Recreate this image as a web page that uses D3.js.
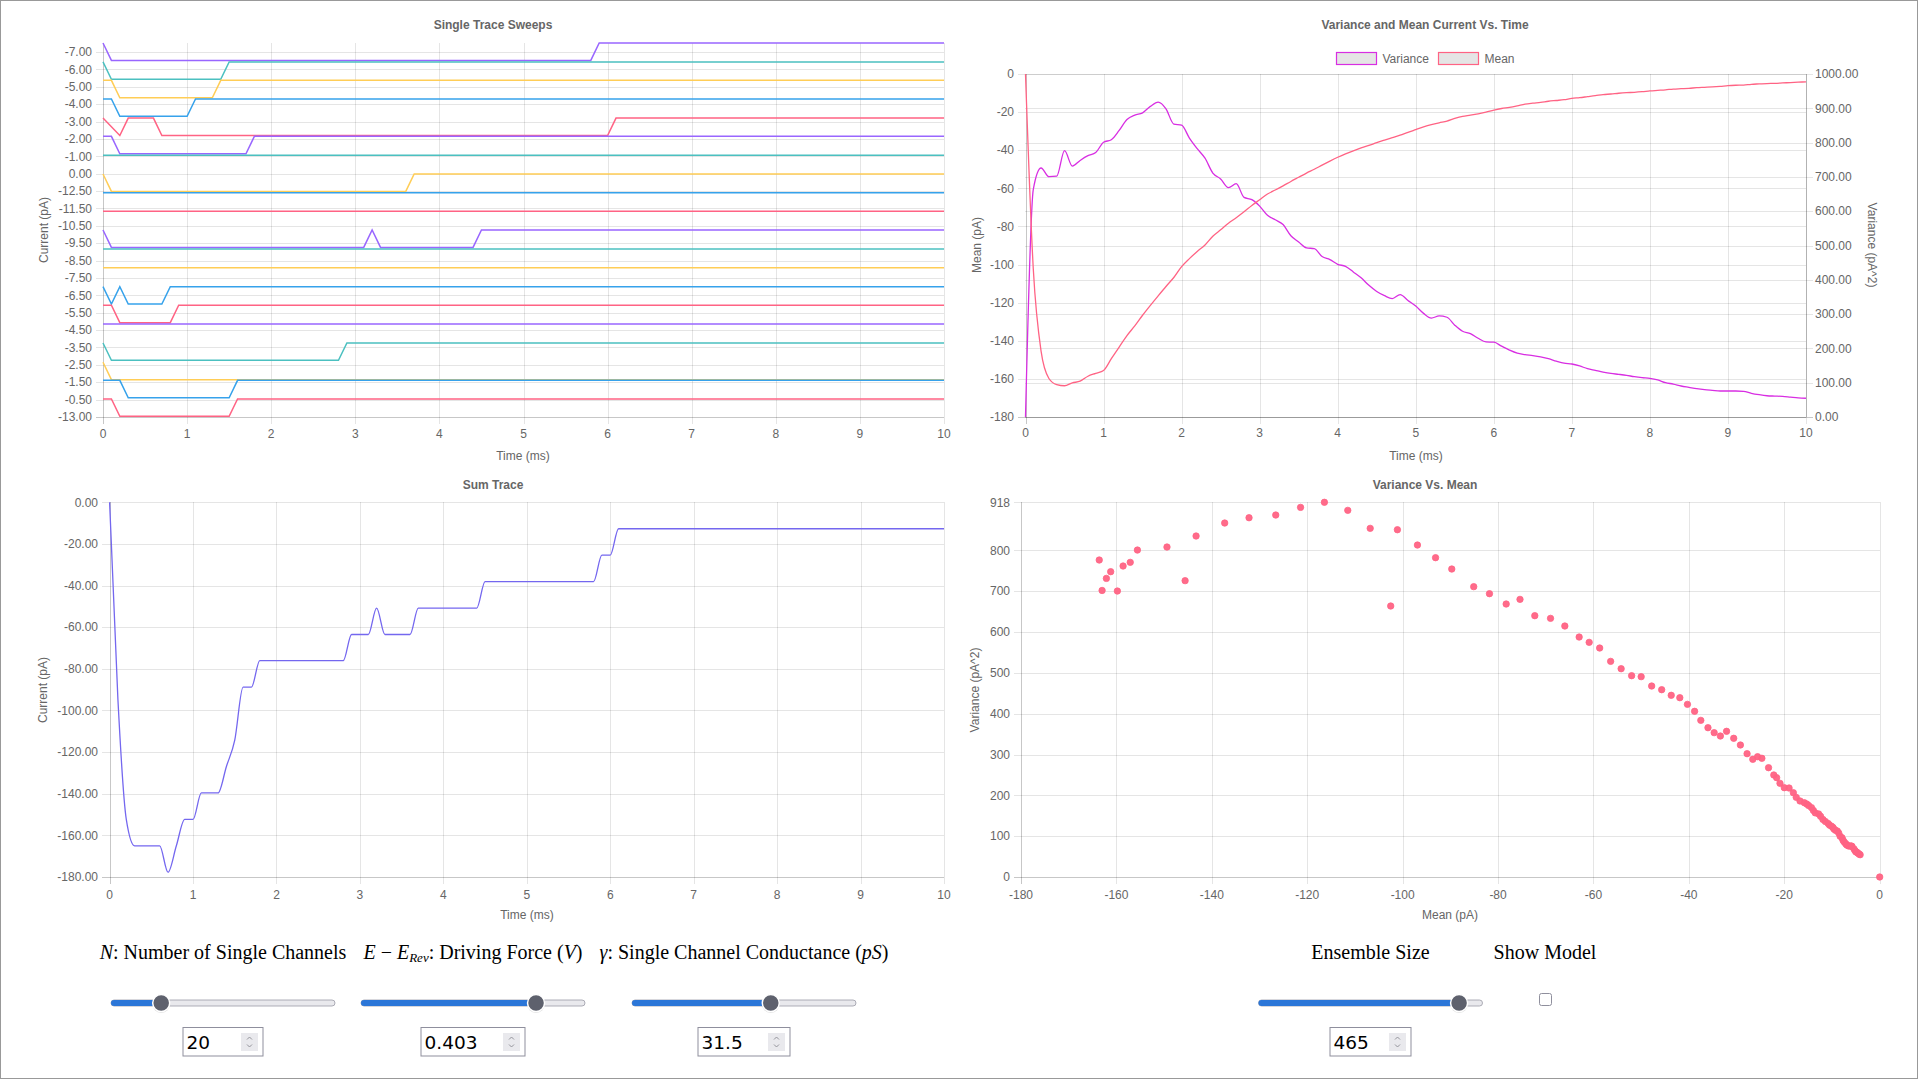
<!DOCTYPE html>
<html>
<head>
<meta charset="utf-8">
<title>Single channel ensemble analysis</title>
<script src="https://cdn.jsdelivr.net/npm/d3@7"></script>
<style>
  body { margin: 0; background: #fff; }
  svg { display: block; }
</style>
</head>
<body>
<script>
// ---- data ----
const timeTicks = [0, 1, 2, 3, 4, 5, 6, 7, 8, 9, 10];
const sampleStep = 0.1; // ms between samples

// sweep chart: tick labels from bottom to top (one per tick unit)
const sweepTickLabels = ["-13.00", "-0.50", "-1.50", "-2.50", "-3.50", "-4.50", "-5.50",
  "-6.50", "-7.50", "-8.50", "-9.50", "-10.50", "-11.50", "-12.50", "0.00", "-1.00",
  "-2.00", "-3.00", "-4.00", "-5.00", "-6.00", "-7.00"];
const sweepMax = 21.52;
// closed level of each sweep (tick units), top to bottom
const sweepBaselines = [21.52, 20.43, 19.37, 18.30, 17.20, 16.15, 15.06, 13.98, 12.91, 11.84,
  10.76, 9.67, 8.59, 7.50, 6.43, 5.35, 4.26, 3.15, 2.11, 1.04];
// [time ms, open state] vertices of each sweep
const sweepEvents = [
  [[0, 0], [0.1, 1], [5.8, 1], [5.9, 0], [10, 0]],
  [[0, 0], [0.1, 1], [1.4, 1], [1.5, 0], [10, 0]],
  [[0, 0], [0.1, 0], [0.2, 1], [1.3, 1], [1.4, 0], [10, 0]],
  [[0, 0], [0.1, 0], [0.2, 1], [1.0, 1], [1.1, 0], [10, 0]],
  [[0, 0], [0.2, 1], [0.3, 0], [0.6, 0], [0.7, 1], [6.0, 1], [6.1, 0], [10, 0]],
  [[0, 0], [0.1, 0], [0.2, 1], [1.7, 1], [1.8, 0], [10, 0]],
  [[0, 0], [10, 0]],
  [[0, 0], [0.1, 1], [3.6, 1], [3.7, 0], [10, 0]],
  [[0, 0], [10, 0]],
  [[0, 0], [10, 0]],
  [[0, 0], [0.1, 1], [3.1, 1], [3.2, 0], [3.3, 1], [4.4, 1], [4.5, 0], [10, 0]],
  [[0, 0], [10, 0]],
  [[0, 0], [10, 0]],
  [[0, 0], [0.1, 1], [0.2, 0], [0.3, 1], [0.7, 1], [0.8, 0], [10, 0]],
  [[0, 0], [0.1, 0], [0.2, 1], [0.8, 1], [0.9, 0], [10, 0]],
  [[0, 0], [10, 0]],
  [[0, 0], [0.1, 1], [2.8, 1], [2.9, 0], [10, 0]],
  [[0, 0], [0.1, 1], [10, 1]],
  [[0, 0], [0.2, 0], [0.3, 1], [1.5, 1], [1.6, 0], [10, 0]],
  [[0, 0], [0.1, 0], [0.2, 1], [1.5, 1], [1.6, 0], [10, 0]],
];

// sum trace (pA), every 0.1 ms
const sumTrace = [
  0, -95, -152.3, -165, -165, -165, -165, -177.7, -165, -152.3,
  -152.3, -139.6, -139.6, -139.6, -126.9, -114.2, -88.8, -88.8, -76.1, -76.1,
  -76.1, -76.1, -76.1, -76.1, -76.1, -76.1, -76.1, -76.1, -76.1, -63.5,
  -63.5, -63.5, -50.8, -63.5, -63.5, -63.5, -63.5, -50.8, -50.8, -50.8,
  -50.8, -50.8, -50.8, -50.8, -50.8, -38.1, -38.1, -38.1, -38.1, -38.1,
  -38.1, -38.1, -38.1, -38.1, -38.1, -38.1, -38.1, -38.1, -38.1, -25.4,
  -25.4, -12.7, -12.7, -12.7, -12.7, -12.7, -12.7, -12.7, -12.7, -12.7,
  -12.7, -12.7, -12.7, -12.7, -12.7, -12.7, -12.7, -12.7, -12.7, -12.7,
  -12.7, -12.7, -12.7, -12.7, -12.7, -12.7, -12.7, -12.7, -12.7, -12.7,
  -12.7, -12.7, -12.7, -12.7, -12.7, -12.7, -12.7, -12.7, -12.7, -12.7,
  -12.7,
];

// ensemble mean (pA), every 0.1 ms
const meanCurrent = [
  0, -102.5, -145.6, -159.8, -163.0, -163.6, -162.1, -161.2, -158.6, -157.1,
  -155.6, -149.4, -143.3, -137.3, -132.2, -126.6, -121.4, -116.4, -111.5, -106.8,
  -101.1, -96.9, -93.1, -89.7, -85.1, -81.8, -78.3, -75.4, -72.3, -69.0,
  -66.0, -63.0, -60.9, -58.7, -56.4, -54.2, -52.0, -50.0, -47.8, -45.7,
  -43.7, -41.9, -40.3, -38.8, -37.5, -36.0, -34.7, -33.4, -32.1, -30.6,
  -29.2, -27.8, -26.6, -25.6, -24.7, -23.3, -22.2, -21.6, -20.9, -20.0,
  -19.0, -18.1, -17.5, -16.7, -15.8, -15.3, -14.9, -14.3, -13.9, -13.5,
  -12.8, -12.4, -11.9, -11.4, -10.8, -10.5, -10.1, -9.8, -9.6, -9.3,
  -8.9, -8.6, -8.3, -7.9, -7.7, -7.5, -7.2, -7.0, -6.8, -6.5,
  -6.1, -5.9, -5.8, -5.4, -5.2, -5.0, -4.9, -4.7, -4.5, -4.3,
  -4.1,
];

// ensemble variance (pA^2), every 0.1 ms
const varianceCurrent = [
  0, 663.9, 726, 700.6, 702, 776.6, 731.6, 748, 761.9, 770.9,
  801, 808.4, 835.4, 867.2, 880.2, 886.8, 905.6, 918, 898.3, 854.2,
  850.8, 813.3, 782.3, 754.5, 711.3, 694.1, 668.8, 680.2, 640.2, 633.7,
  614.9, 587.9, 574.9, 561, 528.3, 510.3, 493.2, 490.8, 467.9, 458.9,
  445.1, 439.3, 423, 405.9, 383.8, 365.8, 353.6, 345.4, 356.9, 339.8,
  323.4, 302.1, 288.3, 294.7, 290.8, 267.8, 249.9, 243.3, 229.5, 218.8,
  218, 206.5, 195.2, 186.2, 182, 178.8, 175, 170, 163, 157,
  154.5, 148.7, 141, 136, 131, 127, 124.4, 121.5, 117.6, 114.7,
  112.7, 108, 100, 96, 90.4, 86.5, 82.6, 79.7, 77.7, 75.8,
  75.8, 75.8, 74.8, 69, 65, 62, 61, 60, 58, 56,
  54.6,
];

const meanTicks = [0, -20, -40, -60, -80, -100, -120, -140, -160, -180];
const varianceTicks = [0, 100, 200, 300, 400, 500, 600, 700, 800, 900, 1000];
const sumTicks = [0, -20, -40, -60, -80, -100, -120, -140, -160, -180];
const scatterMeanTicks = [-180, -160, -140, -120, -100, -80, -60, -40, -20, 0];
const scatterVarTicks = [0, 100, 200, 300, 400, 500, 600, 700, 800];

const controlValues = ["20", "0.403", "31.5", "465"];
const controlRanges = [[0, 100], [0, 0.5], [0, 50], [0, 500]];

// ---- drawing ----
const FONT = "'Liberation Sans', Arial, Helvetica, sans-serif";
const GRID = "rgba(0,0,0,0.1)";
const AXIS = "rgba(0,0,0,0.22)";
const TEXT = "#666";
const sweepColors = ["rgb(153,102,255)", "rgb(75,192,192)", "rgb(255,205,86)",
  "rgb(54,162,235)", "rgb(255,99,132)"];
const VAR_COLOR = "#d82ee2";
const MEAN_COLOR = "rgb(255,99,132)";
const SUM_COLOR = "#7467ef";

const sampleTimes = meanCurrent.map((d, i) => i * sampleStep);

const svg = d3.select("body").append("svg")
  .attr("width", 1920).attr("height", 1080)
  .style("font-family", FONT);

svg.append("rect")
  .attr("x", 0.5).attr("y", 0.5).attr("width", 1917).attr("height", 1078)
  .attr("fill", "none").attr("stroke", "#999");

function crisp(v) { return Math.round(v) + 0.5; }

function vGrid(x, ticks, top, bottom) {
  svg.append("g").selectAll("line").data(ticks).join("line")
    .attr("x1", d => crisp(x(d))).attr("x2", d => crisp(x(d)))
    .attr("y1", top).attr("y2", bottom + 7)
    .attr("stroke", (d, i) => i === 0 ? AXIS : GRID);
}

function hGrid(y, ticks, x1, x2, isBottom) {
  svg.append("g").selectAll("line").data(ticks).join("line")
    .attr("x1", x1).attr("x2", x2)
    .attr("y1", d => crisp(y(d))).attr("y2", d => crisp(y(d)))
    .attr("stroke", d => isBottom(d) ? AXIS : GRID);
}

function tickText(list, xf, yf, fmt, anchor) {
  svg.append("g").selectAll("text").data(list).join("text")
    .attr("x", xf).attr("y", yf).attr("dy", "0.35em")
    .attr("text-anchor", anchor)
    .attr("font-size", 12).attr("fill", TEXT)
    .text(fmt);
}

function title(x, y, t) {
  svg.append("text").attr("x", x).attr("y", y).attr("dy", "0.35em")
    .attr("text-anchor", "middle").attr("font-size", 12)
    .attr("font-weight", "bold").attr("fill", TEXT).text(t);
}

function axisTitle(x, y, t, rot) {
  svg.append("text")
    .attr("transform", `translate(${x},${y}) rotate(${rot || 0})`)
    .attr("dy", "0.35em").attr("text-anchor", "middle")
    .attr("font-size", 12).attr("fill", TEXT).text(t);
}

// --- Single Trace Sweeps ---
{
  const x = d3.scaleLinear().domain([0, 10]).range([103, 944]);
  const y = d3.scaleLinear().domain([0, sweepMax]).range([417, 43]);
  const ticks = sweepTickLabels.map((d, i) => i);

  vGrid(x, timeTicks, 43, 417);
  hGrid(y, ticks, 96, 944, d => d === 0);
  tickText(ticks, 92, d => y(d), d => sweepTickLabels[d], "end");
  tickText(timeTicks, d => x(d), 434, d => d, "middle");
  title(493, 25, "Single Trace Sweeps");
  axisTitle(44, 230, "Current (pA)", -90);
  axisTitle(523, 456, "Time (ms)");

  const line = d3.line().x(d => x(d[0])).y(d => y(d[1]));
  sweepEvents.forEach((ev, k) => {
    const pts = ev.map(e => [e[0], sweepBaselines[k] - e[1]]);
    svg.append("path").datum(pts)
      .attr("d", line).attr("fill", "none")
      .attr("stroke", sweepColors[k % 5]).attr("stroke-width", 1.5);
  });
}

// --- Variance and Mean Current Vs. Time ---
{
  const x = d3.scaleLinear().domain([0, 10]).range([1025.5, 1806]);
  const yMean = d3.scaleLinear().domain([-180, 0]).range([417, 74]);
  const yVar = d3.scaleLinear().domain([0, 1000]).range([417, 74]);

  vGrid(x, timeTicks, 74, 417);
  hGrid(yMean, meanTicks, 1018, 1806, d => d === -180);
  hGrid(yVar, varianceTicks, 1025, 1813, d => d === 0);
  svg.append("line").attr("x1", crisp(1806)).attr("x2", crisp(1806))
    .attr("y1", 74).attr("y2", 417).attr("stroke", AXIS);
  tickText(meanTicks, 1014, d => yMean(d), d => d, "end");
  tickText(varianceTicks, 1815, d => yVar(d), d => d.toFixed(2), "start");
  tickText(timeTicks, d => x(d), 433, d => d, "middle");
  title(1425, 25, "Variance and Mean Current Vs. Time");
  axisTitle(977, 245, "Mean (pA)", -90);
  axisTitle(1872, 245, "Variance (pA^2)", 90);
  axisTitle(1416, 456, "Time (ms)");

  // legend
  const legend = [["Variance", VAR_COLOR, 1336.5], ["Mean", MEAN_COLOR, 1438.5]];
  legend.forEach(l => {
    svg.append("rect").attr("x", l[2]).attr("y", 52.5).attr("width", 40).attr("height", 12)
      .attr("fill", "rgba(0,0,0,0.1)").attr("stroke", l[1]).attr("stroke-width", 1.2);
    svg.append("text").attr("x", l[2] + 46).attr("y", 58.5).attr("dy", "0.35em")
      .attr("font-size", 12).attr("fill", TEXT).text(l[0]);
  });

  const varLine = d3.line().x((d, i) => x(sampleTimes[i])).y(d => yVar(d)).curve(d3.curveMonotoneX);
  const meanLine = d3.line().x((d, i) => x(sampleTimes[i])).y(d => yMean(d)).curve(d3.curveMonotoneX);
  svg.append("path").datum(varianceCurrent).attr("d", varLine)
    .attr("fill", "none").attr("stroke", VAR_COLOR).attr("stroke-width", 1.3);
  svg.append("path").datum(meanCurrent).attr("d", meanLine)
    .attr("fill", "none").attr("stroke", MEAN_COLOR).attr("stroke-width", 1.3);
}

// --- Sum Trace ---
{
  const x = d3.scaleLinear().domain([0, 10]).range([109.6, 944]);
  const y = d3.scaleLinear().domain([-180, 0]).range([877, 502.3]);

  vGrid(x, timeTicks, 502, 877);
  hGrid(y, sumTicks, 102, 944, d => d === -180);
  tickText(sumTicks, 98, d => y(d), d => d.toFixed(2), "end");
  tickText(timeTicks, d => x(d), 895, d => d, "middle");
  title(493, 485, "Sum Trace");
  axisTitle(43, 690, "Current (pA)", -90);
  axisTitle(527, 915, "Time (ms)");

  const line = d3.line().x((d, i) => x(sampleTimes[i])).y(d => y(d)).curve(d3.curveMonotoneX);
  svg.append("path").datum(sumTrace).attr("d", line)
    .attr("fill", "none").attr("stroke", SUM_COLOR).attr("stroke-width", 1.3);
}

// --- Variance Vs. Mean ---
{
  const varMax = d3.max(varianceCurrent);
  const x = d3.scaleLinear().domain([-180, 0]).range([1021, 1879.7]);
  const y = d3.scaleLinear().domain([0, varMax]).range([877, 502.3]);
  const yTicks = scatterVarTicks.concat([varMax]);

  vGrid(x, scatterMeanTicks, 502, 877);
  hGrid(y, yTicks, 1014, 1880, d => d === 0);
  tickText(yTicks, 1010, d => y(d), d => d, "end");
  tickText(scatterMeanTicks, d => x(d), 895, d => d, "middle");
  title(1425, 485, "Variance Vs. Mean");
  axisTitle(975, 690, "Variance (pA^2)", -90);
  axisTitle(1450, 915, "Mean (pA)");

  svg.append("g").selectAll("circle").data(meanCurrent).join("circle")
    .attr("cx", d => x(d))
    .attr("cy", (d, i) => y(varianceCurrent[i]))
    .attr("r", 3.2)
    .attr("fill", "rgba(255,99,132,0.95)")
    .attr("stroke", "rgb(255,99,132)").attr("stroke-width", 0.8);
}

// --- controls ---
{
  const serif = "'Liberation Serif', 'Times New Roman', serif";
  const labelY = 959;
  const centers = [223, 473, 744, 1370.5];

  function mathLabel(cx, parts) {
    const t = svg.append("text").attr("x", cx).attr("y", labelY)
      .attr("text-anchor", "middle").attr("font-family", serif)
      .attr("font-size", 20).attr("fill", "#000");
    parts.forEach(p => {
      const s = t.append("tspan").text(p[0]);
      if (p[1] === "i") s.attr("font-style", "italic");
      if (p[1] === "sub") s.attr("font-style", "italic").attr("font-size", 13).attr("baseline-shift", -3);
    });
  }
  mathLabel(centers[0], [["N", "i"], [": Number of Single Channels"]]);
  mathLabel(centers[1], [["E", "i"], [" \u2212 "], ["E", "i"], ["Rev", "sub"], [": Driving Force ("], ["V", "i"], [")"]]);
  mathLabel(centers[2], [["\u03b3", "i"], [": Single Channel Conductance ("], ["pS", "i"], [")"]]);
  mathLabel(centers[3], [["Ensemble Size"]]);
  mathLabel(1545, [["Show Model"]]);

  // sliders
  const trackW = 224, trackY = 1003;
  controlValues.forEach((v, k) => {
    const left = centers[k] - trackW / 2;
    const pos = d3.scaleLinear().domain(controlRanges[k]).range([left + 9, left + trackW - 9]);
    const tx = pos(+v);
    svg.append("rect").attr("x", left).attr("y", trackY - 3).attr("width", trackW).attr("height", 6)
      .attr("rx", 3).attr("fill", "#e9e9ed").attr("stroke", "#9a9aa6").attr("stroke-width", 0.8);
    svg.append("rect").attr("x", left).attr("y", trackY - 3).attr("width", tx - left).attr("height", 6)
      .attr("rx", 3).attr("fill", "#2b76d8");
    svg.append("circle").attr("cx", tx).attr("cy", trackY + 1).attr("r", 9)
      .attr("fill", "rgba(0,0,0,0.12)");
    svg.append("circle").attr("cx", tx).attr("cy", trackY).attr("r", 8.5)
      .attr("fill", "#5e616d").attr("stroke", "#fff").attr("stroke-width", 1.5);
  });

  // number boxes
  const boxW = [80, 104, 92, 81];
  controlValues.forEach((v, k) => {
    const left = centers[k] - boxW[k] / 2, top = 1027.5, h = 28.5;
    svg.append("rect").attr("x", left).attr("y", top).attr("width", boxW[k]).attr("height", h)
      .attr("fill", "#fff").attr("stroke", "#8f8f9d").attr("stroke-width", 1);
    svg.append("text").attr("x", left + 3.5).attr("y", 1048.5)
      .attr("font-family", "'DejaVu Sans', sans-serif").attr("font-size", 18.5)
      .attr("fill", "#000").text(v);
    const sx = left + boxW[k] - 22;
    svg.append("rect").attr("x", sx).attr("y", top + 5.5).attr("width", 17).attr("height", 18)
      .attr("fill", "#e9e9ed");
    svg.append("path")
      .attr("d", `M${sx + 6},${top + 12} l2.5,-2.5 l2.5,2.5 M${sx + 6},${top + 17} l2.5,2.5 l2.5,-2.5`)
      .attr("fill", "none").attr("stroke", "#8a8a92").attr("stroke-width", 0.9);
  });

  // checkbox
  svg.append("rect").attr("x", 1539.5).attr("y", 993.5).attr("width", 12).attr("height", 12)
    .attr("rx", 2).attr("fill", "#fff").attr("stroke", "#8f8f9d").attr("stroke-width", 1);
}
</script>
</body>
</html>
